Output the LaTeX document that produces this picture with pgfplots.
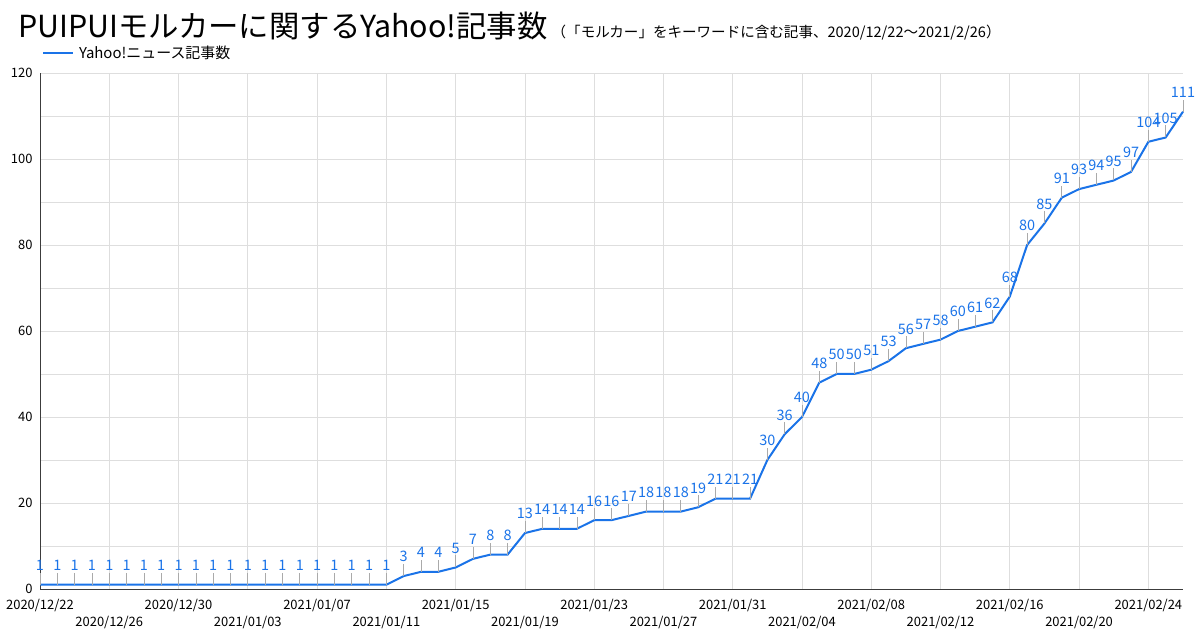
\documentclass[border=0pt]{standalone}
\usepackage{pgfplots}
\pgfplotsset{compat=1.18}
\usepackage{fontspec}
\setmainfont{Noto Sans CJK JP}
\definecolor{lineblue}{RGB}{26,115,232}
\definecolor{leader}{RGB}{170,170,170}
\definecolor{gridgray}{RGB}{222,222,222}
\definecolor{axisgray}{RGB}{60,60,60}
\pgfkeys{/pgf/number format/assume math mode=true}

\begin{document}
\begin{tikzpicture}
\path[use as bounding box] (0,0) rectangle (1200bp,644bp);

% 記事数（累計）、x=0 が 2020/12/22
\pgfplotstableread{
d n
0 1
1 1
2 1
3 1
4 1
5 1
6 1
7 1
8 1
9 1
10 1
11 1
12 1
13 1
14 1
15 1
16 1
17 1
18 1
19 1
20 1
21 3
22 4
23 4
24 5
25 7
26 8
27 8
28 13
29 14
30 14
31 14
32 16
33 16
34 17
35 18
36 18
37 18
38 19
39 21
40 21
41 21
42 30
43 36
44 40
45 48
46 50
47 50
48 51
49 53
50 56
51 57
52 58
53 60
54 61
55 62
56 68
57 80
58 85
59 91
60 93
61 94
62 95
63 97
64 104
65 105
66 111
}\articles

\begin{axis}[
  at={(40bp,55bp)}, anchor=south west,
  scale only axis, width=1143bp, height=516bp,
  xmin=0, xmax=66, ymin=0, ymax=120,
  axis lines=left, axis line style={-, axisgray, line width=0.8bp},
  xtick={0,4,...,64},
  xticklabels={2020/12/22,{\vphantom{0}\\2020/12/26},2020/12/30,{\vphantom{0}\\2021/01/03},
    2021/01/07,{\vphantom{0}\\2021/01/11},2021/01/15,{\vphantom{0}\\2021/01/19},
    2021/01/23,{\vphantom{0}\\2021/01/27},2021/01/31,{\vphantom{0}\\2021/02/04},
    2021/02/08,{\vphantom{0}\\2021/02/12},2021/02/16,{\vphantom{0}\\2021/02/20},2021/02/24},
  xticklabel style={align=center, font=\fontsize{13}{18}\selectfont, yshift=-7bp},
  ytick={0,20,...,120}, minor ytick={10,30,...,110},
  yticklabel style={font=\fontsize{13}{14}\selectfont, xshift=-4bp},
  grid=both,
  major grid style={gridgray, line width=0.8bp},
  minor grid style={gridgray, line width=0.8bp},
  major tick length=0pt, minor tick length=0pt,
  clip=false,
  legend style={at={(0,1)}, anchor=south west, draw=none, fill=none,
    font=\fontsize{15}{17}\selectfont, yshift=13bp, xshift=2bp,
    inner sep=0pt, legend cell align=left,
    nodes={inner sep=0pt, outer sep=0pt}},
  legend image code/.code={\draw[#1, line width=2bp] (0bp,0bp) -- (30bp,0bp);},
]
\addplot[lineblue, line width=2bp, mark=none,
  nodes near coords,
  every node near coord/.style={anchor=south, yshift=13bp, inner sep=0pt,
    font=\fontsize{14.5}{15}\selectfont, text=lineblue},
  error bars/.cd, y dir=plus, y fixed=2.8, error mark=none,
  error bar style={solid, leader, line width=0.7bp}]
  table[x=d, y=n] {\articles};
\legend{\hspace{5bp}Yahoo!ニュース記事数}
\end{axis}

\node[anchor=base west, inner sep=0pt] at (18bp,606bp)
  {\fontsize{30.5}{32}\selectfont PUIPUIモルカーに関するYahoo!記事数\hspace{4bp}%
   \fontsize{14.6}{16}\selectfont（「モルカー」をキーワードに含む記事、2020/12/22～2021/2/26）};
\end{tikzpicture}
\end{document}
